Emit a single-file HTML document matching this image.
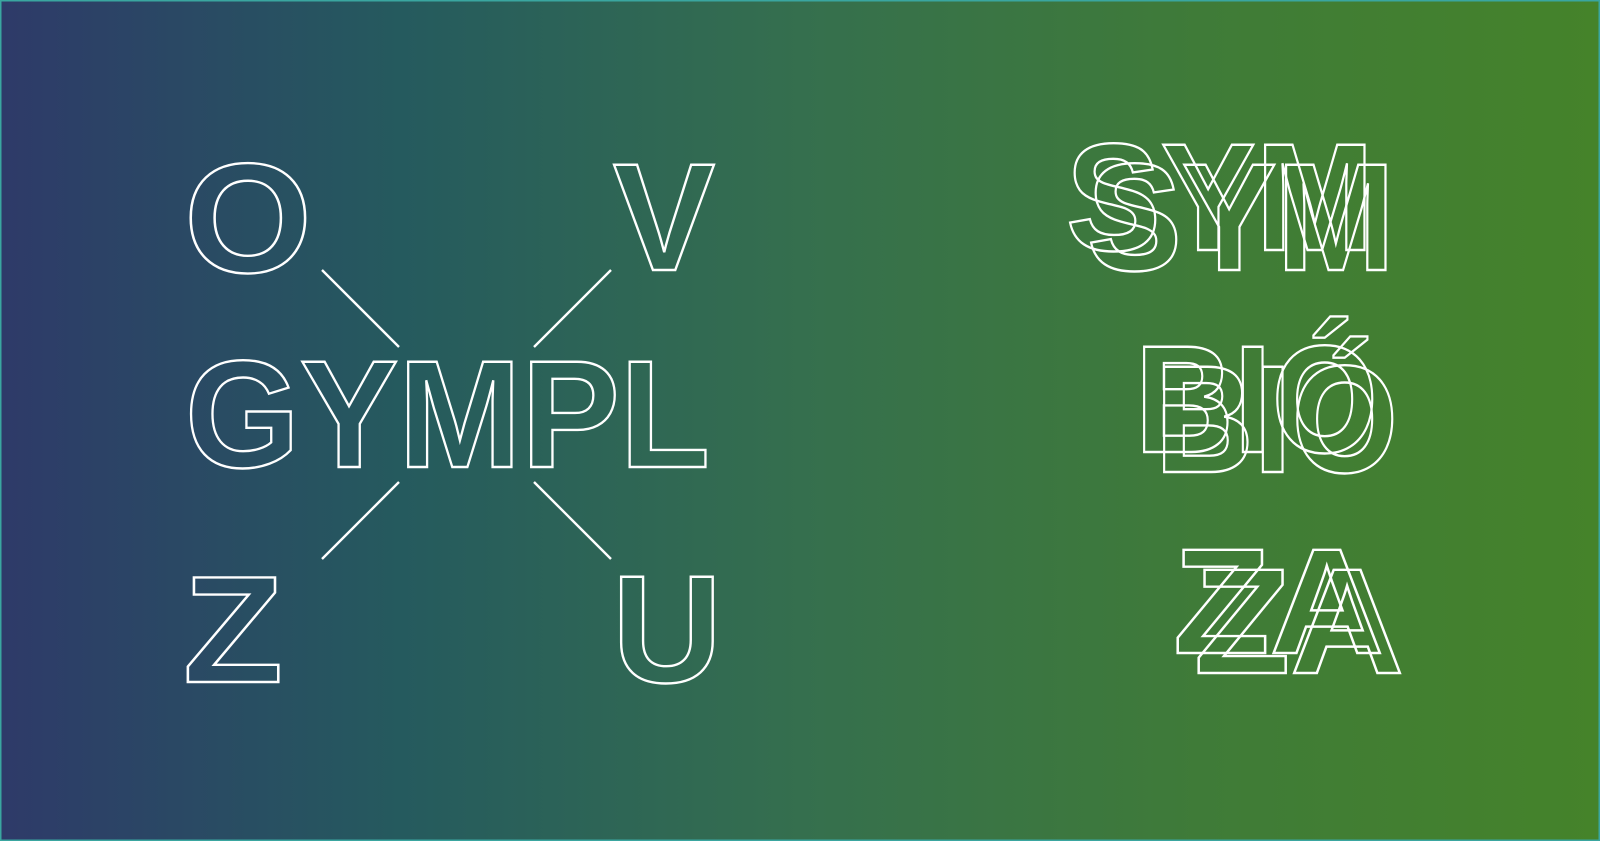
<!DOCTYPE html>
<html><head><meta charset="utf-8"><style>
html,body{margin:0;padding:0;width:1600px;height:841px;overflow:hidden}
svg{display:block}
text{font-family:"Liberation Sans",sans-serif;font-weight:bold;fill:none;stroke:#fff;stroke-width:2.4}
</style></head><body>
<svg width="1600" height="841" viewBox="0 0 1600 841">
<defs><linearGradient id="g" x1="0" x2="1" y1="0" y2="0">
<stop offset="0" stop-color="#2e3a69"/>
<stop offset="0.25" stop-color="#255a5e"/>
<stop offset="0.5" stop-color="#356f4e"/>
<stop offset="0.75" stop-color="#3f7b38"/>
<stop offset="1" stop-color="#45832a"/>
</linearGradient></defs>
<rect x="0" y="0" width="1600" height="841" fill="url(#g)"/>
<rect x="0.5" y="0.5" width="1599" height="840" fill="none" stroke="#3aa6a0" stroke-width="2"/>
<g stroke="#fff" stroke-width="2.4">
<line x1="322" y1="270" x2="399" y2="347"/>
<line x1="611" y1="270" x2="534" y2="347"/>
<line x1="399" y1="482" x2="322" y2="559"/>
<line x1="534" y1="482" x2="611" y2="559"/>
</g>
<text x="185" y="467" font-size="153" textLength="525" lengthAdjust="spacingAndGlyphs">GYMPL</text>
<text x="184" y="272" font-size="156" textLength="128" lengthAdjust="spacingAndGlyphs">O</text>
<text x="613" y="270" font-size="153" textLength="102" lengthAdjust="spacingAndGlyphs">V</text>
<text x="183" y="682" font-size="152" textLength="100" lengthAdjust="spacingAndGlyphs">Z</text>
<text x="612" y="682" font-size="153" textLength="110" lengthAdjust="spacingAndGlyphs">U</text>
<text x="1066" y="250" font-size="153" textLength="308" lengthAdjust="spacingAndGlyphs">SYM</text>
<text x="1087" y="270" font-size="153" textLength="308" lengthAdjust="spacingAndGlyphs">SYM</text>
<text x="1135" y="452" font-size="153" textLength="243" lengthAdjust="spacingAndGlyphs">BIÓ</text>
<text x="1155" y="472" font-size="153" textLength="243" lengthAdjust="spacingAndGlyphs">BIÓ</text>
<text x="1173" y="653" font-size="150" textLength="211" lengthAdjust="spacingAndGlyphs">ZA</text>
<text x="1194" y="673" font-size="150" textLength="210" lengthAdjust="spacingAndGlyphs">ZA</text>
</svg>
</body></html>
